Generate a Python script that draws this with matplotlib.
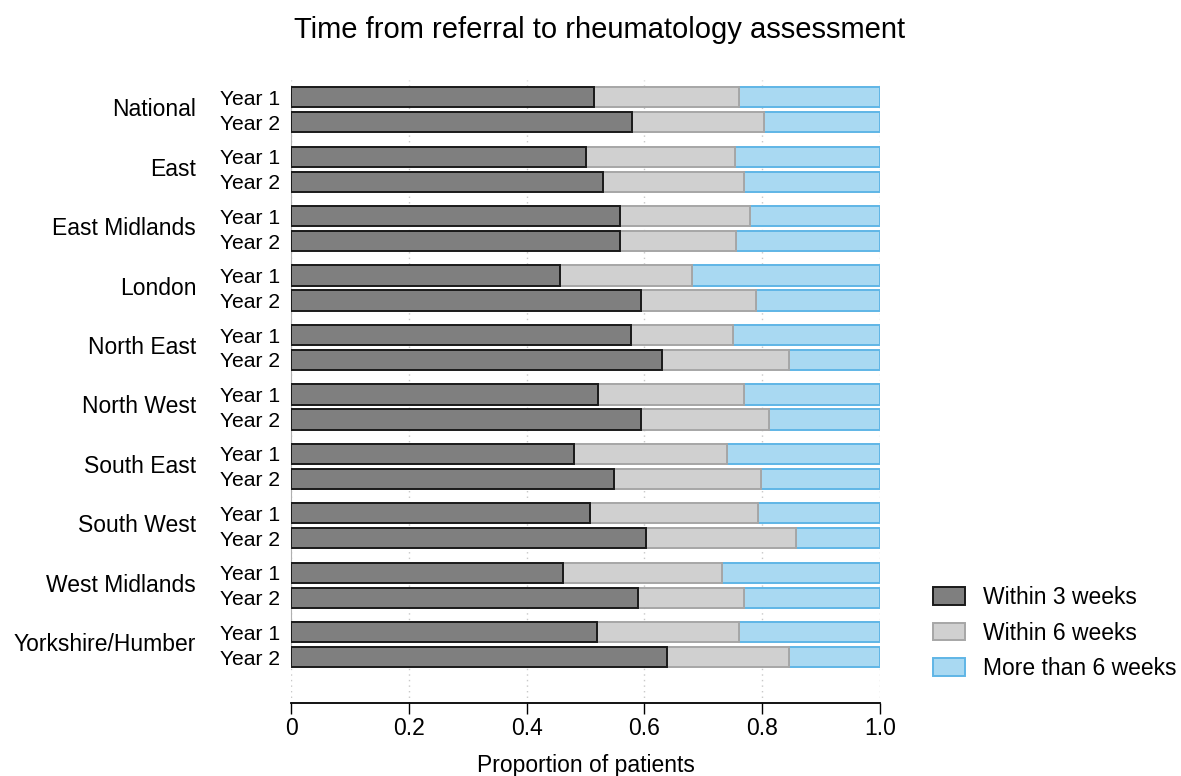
import matplotlib
matplotlib.use("Agg")
import matplotlib.pyplot as plt
import numpy as np

plt.rcParams['font.family'] = ['Liberation Sans', 'DejaVu Sans']

regions = ["National", "East", "East Midlands", "London", "North East",
           "North West", "South East", "South West", "West Midlands",
           "Yorkshire/Humber"]
years = ["Year 1", "Year 2"]

# proportion seen within 3 weeks [Year 1, Year 2]
within3 = [[0.515, 0.579], [0.501, 0.529], [0.558, 0.559], [0.456, 0.595],
           [0.577, 0.630], [0.522, 0.595], [0.480, 0.548], [0.507, 0.603],
           [0.461, 0.589], [0.520, 0.638]]
# proportion seen between 3 and 6 weeks
within6 = [[0.246, 0.224], [0.253, 0.240], [0.221, 0.197], [0.225, 0.195],
           [0.173, 0.215], [0.247, 0.217], [0.260, 0.250], [0.286, 0.254],
           [0.270, 0.180], [0.241, 0.208]]
# proportion seen after more than 6 weeks
more6 = [[0.239, 0.197], [0.246, 0.231], [0.221, 0.244], [0.319, 0.210],
         [0.250, 0.155], [0.231, 0.188], [0.260, 0.202], [0.207, 0.143],
         [0.269, 0.231], [0.239, 0.154]]

series_labels = ["Within 3 weeks", "Within 6 weeks", "More than 6 weeks"]
fills = ["#7f7f7f", "#d0d0d0", "#a9d9f2"]
edges = ["#1a1a1a", "#a6a6a6", "#5fb6e6"]

fig = plt.figure(figsize=(11.81, 7.76), dpi=100)
ax = fig.add_axes([291/1181, 73/776, 589/1181, (703-80)/776])

offset = 0.42
h = 0.34
ypos, ylabels = [], []
for i in range(len(regions)):
    for j in range(2):
        ypos.append(i + j*offset)
        ylabels.append(years[j])
ypos = np.array(ypos)
w3 = np.array(within3).ravel()
w6 = np.array(within6).ravel()
m6 = np.array(more6).ravel()

lw = 1.4
ax.barh(ypos, w3, height=h, color=fills[0], edgecolor=edges[0], linewidth=lw,
        label=series_labels[0], zorder=3)
ax.barh(ypos, w6, left=w3, height=h, color=fills[1], edgecolor=edges[1],
        linewidth=lw, label=series_labels[1], zorder=2)
ax.barh(ypos, m6, left=w3+w6, height=h, color=fills[2], edgecolor=edges[2],
        linewidth=lw, label=series_labels[2], zorder=1)

ax.set_ylim(9 + offset + 0.77, -0.29)
ax.set_xlim(0, 1.0)
ax.set_yticks(ypos)
ax.set_yticklabels(ylabels, fontsize=15.2)
ax.tick_params(axis='y', length=0, pad=8)
ax.set_xticks([0, 0.2, 0.4, 0.6, 0.8, 1.0])
ax.set_xticklabels(["0", "0.2", "0.4", "0.6", "0.8", "1.0"], fontsize=16.5)
ax.tick_params(axis='x', length=8, width=1, pad=2, direction='out')
ax.set_xlabel("Proportion of patients", fontsize=16.5, labelpad=10)

ax.grid(axis='x', linestyle=(0, (1, 3)), color='#c8c8c8', linewidth=1, zorder=0)
ax.set_axisbelow(True)
for s in ['top', 'right']:
    ax.spines[s].set_visible(False)
ax.spines['left'].set_color('#b0b0b0')
ax.spines['left'].set_bounds(-0.05, 9 + offset + 0.1)
ax.spines['bottom'].set_linewidth(1.3)

for i, r in enumerate(regions):
    ax.text(-0.161, i + offset/2, r, transform=ax.get_yaxis_transform(),
            ha='right', va='center', fontsize=16.5)

fig.text(600/1181, 1 - 30/776, "Time from referral to rheumatology assessment",
         ha='center', va='center', fontsize=21)

leg = ax.legend(loc='center left', bbox_to_anchor=(933/1181, 1 - 633/776),
                bbox_transform=fig.transFigure, frameon=False, fontsize=16.5,
                handlelength=1.4, handleheight=0.8, handletextpad=0.8,
                labelspacing=0.55, borderaxespad=0, borderpad=0)

fig.savefig("out.png", dpi=100)
